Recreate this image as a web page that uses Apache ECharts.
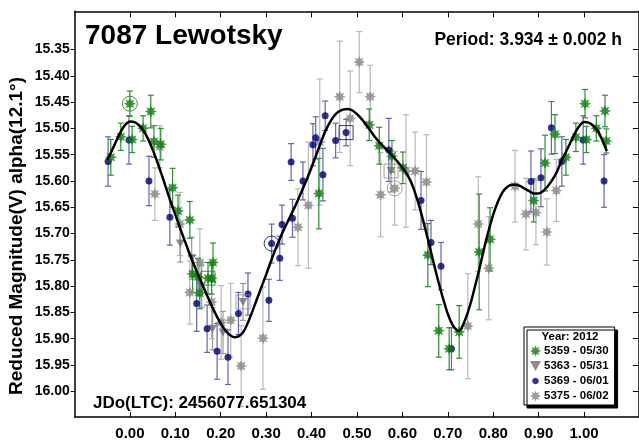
<!DOCTYPE html>
<html>
<head>
<meta charset="utf-8">
<script src="https://cdn.jsdelivr.net/npm/echarts@6/dist/echarts.min.js"></script>
<style>
html,body{margin:0;padding:0;background:#fff;}
#chart{width:639px;height:441px;}
</style>
</head>
<body>
<div id="chart"></div>
<script>
// ---- data (phase, reduced magnitude, error) ----
const s5359 = [
  [-0.042,15.555,0.034],[-0.020,15.516,0.026],[0.000,15.453,0.024],[0.005,15.521,0.025],
  [0.029,15.500,0.024],[0.046,15.468,0.031],[0.053,15.525,0.030],[0.068,15.530,0.030],
  [0.094,15.613,0.037],[0.106,15.657,0.030],[0.132,15.674,0.035],[0.138,15.777,0.035],
  [0.150,15.782,0.035],[0.154,15.813,0.030],[0.172,15.785,0.030],[0.180,15.785,0.030],
  [0.183,15.755,0.037],[0.416,15.624,0.067],[0.527,15.493,0.030],[0.549,15.533,0.035],
  [0.577,15.553,0.030],[0.601,15.575,0.030],[0.656,15.741,0.060],[0.680,15.885,0.050],
  [0.703,15.919,0.040],[0.725,15.887,0.050],[0.769,15.735,0.110],[0.793,15.711,0.060],
  [0.889,15.637,0.041],[0.914,15.566,0.053],[0.936,15.511,0.037],[0.960,15.555,0.034],
  [0.982,15.517,0.027],[1.002,15.453,0.027],[1.005,15.521,0.025],[1.027,15.500,0.024],
  [1.046,15.467,0.030],[1.049,15.524,0.023]
];
const s5363 = [
  [0.111,15.719,0.035],[0.136,15.747,0.040],[0.158,15.800,0.040],[0.182,15.881,0.040],
  [0.205,15.888,0.040],[0.249,15.830,0.035],[0.575,15.581,0.040]
];
const s5369 = [
  [-0.048,15.563,0.047],[-0.002,15.522,0.046],[0.042,15.600,0.047],[0.088,15.669,0.053],
  [0.147,15.833,0.053],[0.170,15.881,0.045],[0.192,15.924,0.053],[0.216,15.935,0.052],
  [0.239,15.852,0.040],[0.260,15.815,0.040],[0.306,15.827,0.040],[0.312,15.719,0.037],
  [0.330,15.747,0.042],[0.335,15.683,0.037],[0.355,15.564,0.035],[0.358,15.671,0.036],
  [0.381,15.600,0.036],[0.403,15.531,0.040],[0.409,15.518,0.040],[0.425,15.588,0.050],
  [0.430,15.476,0.028],[0.453,15.523,0.033],[0.476,15.508,0.025],[0.570,15.541,0.060],
  [0.641,15.637,0.055],[0.663,15.717,0.042],[0.685,15.762,0.045],[0.708,15.919,0.040],
  [0.883,15.601,0.058],[0.905,15.594,0.055],[0.928,15.499,0.050],[0.951,15.563,0.047],
  [0.998,15.522,0.046],[1.044,15.600,0.050]
];
const s5375 = [
  [0.055,15.625,0.050],[0.066,15.535,0.040],[0.110,15.682,0.060],[0.132,15.812,0.060],
  [0.154,15.755,0.064],[0.180,15.830,0.070],[0.201,15.869,0.070],[0.222,15.865,0.070],
  [0.245,15.952,0.077],[0.293,15.899,0.097],[0.370,15.688,0.073],[0.393,15.646,0.120],
  [0.418,15.526,0.120],[0.462,15.440,0.106],[0.485,15.481,0.090],[0.505,15.374,0.058],
  [0.529,15.440,0.060],[0.552,15.626,0.080],[0.583,15.614,0.070],[0.608,15.581,0.107],
  [0.628,15.581,0.074],[0.653,15.602,0.090],[0.744,15.876,0.100],[0.767,15.682,0.090],
  [0.790,15.766,0.098],[0.848,15.610,0.068],[0.872,15.663,0.068],[0.894,15.660,0.061],
  [0.918,15.697,0.063],[0.939,15.618,0.059]
];
// session-start markers
const ringsGreen = [[0.000,15.453]];
const ringsNavy = [[0.312,15.719]];
const ringsGrey = [[0.583,15.614]];
const boxesGreen = [[0.172,15.785]];
const boxesNavy = [[0.476,15.508]];
const boxesGrey = [[0.249,15.830],[0.575,15.581]];
// Fourier fit curve
const curvePhase = [-0.05,-0.04,-0.03,-0.02,-0.01,0.00,0.01,0.02,0.03,0.04,0.05,0.06,0.07,0.08,0.09,0.10,0.11,0.12,0.13,0.14,0.15,0.16,0.17,0.18,0.19,0.20,0.21,0.22,0.23,0.24,0.25,0.26,0.27,0.28,0.29,0.30,0.31,0.32,0.33,0.34,0.35,0.36,0.37,0.38,0.39,0.40,0.41,0.42,0.43,0.44,0.45,0.46,0.47,0.48,0.49,0.50,0.51,0.52,0.53,0.54,0.55,0.56,0.57,0.58,0.59,0.60,0.61,0.62,0.63,0.64,0.65,0.66,0.67,0.68,0.69,0.70,0.71,0.72,0.725,0.73,0.74,0.75,0.76,0.77,0.78,0.79,0.80,0.81,0.82,0.83,0.84,0.85,0.86,0.87,0.88,0.89,0.90,0.91,0.92,0.93,0.94,0.95,0.96,0.97,0.98,0.99,1.00,1.01,1.02,1.03,1.04,1.05];
const curveMag = [15.560,15.543,15.524,15.506,15.493,15.487,15.488,15.494,15.504,15.520,15.540,15.563,15.588,15.614,15.640,15.664,15.688,15.712,15.735,15.757,15.778,15.798,15.818,15.837,15.855,15.871,15.884,15.893,15.897,15.895,15.887,15.869,15.847,15.824,15.801,15.778,15.754,15.731,15.710,15.691,15.673,15.655,15.636,15.616,15.596,15.574,15.551,15.528,15.506,15.489,15.476,15.468,15.464,15.463,15.466,15.473,15.482,15.493,15.505,15.517,15.527,15.536,15.545,15.554,15.564,15.575,15.587,15.604,15.628,15.657,15.690,15.725,15.760,15.794,15.825,15.853,15.873,15.884,15.885,15.880,15.860,15.833,15.800,15.765,15.728,15.694,15.664,15.640,15.622,15.612,15.607,15.607,15.610,15.615,15.620,15.624,15.624,15.619,15.610,15.598,15.583,15.562,15.545,15.527,15.509,15.495,15.488,15.489,15.495,15.505,15.522,15.543];
const xTicks = [0,0.1,0.2,0.3,0.4,0.5,0.6,0.7,0.8,0.9,1.0];
const yTicks = [15.35,15.40,15.45,15.50,15.55,15.60,15.65,15.70,15.75,15.80,15.85,15.90,15.95,16.00];
const seriesNames = ['5359 - 05/30','5363 - 05/31','5369 - 06/01','5375 - 06/02'];

const FONT = '"Liberation Sans", Arial, sans-serif';
const XMIN = -0.1215, XMAX = 1.1209, YMIN = 15.2774, YMAX = 16.0488;
const STAR = 'path://M20,10 L15,12.1 L17.07,17.07 L12.1,15 L10,20 L7.9,15 L2.93,17.07 L5,12.1 L0,10 L5,7.9 L2.93,2.93 L7.9,5 L10,0 L12.1,5 L17.07,2.93 L15,7.9 Z';
const TRI = 'path://M0,0 L10,0 L5,9 Z';
const DOT = 'path://M0,0 L0.01,0 L0.01,0.01 Z M20,20 L19.99,20 L19.99,19.99 Z M10,4 L13,4.8 L15.2,7 L16,10 L15.2,13 L13,15.2 L10,16 L7,15.2 L4.8,13 L4,10 L4.8,7 L7,4.8 Z';

function errSeries(data, color) {
  return {
    type: 'custom', data: data, z: 2, silent: true,
    renderItem: function (params, api) {
      const x = api.value(0), y = api.value(1), e = api.value(2);
      const a = api.coord([x, y - e]);
      const b = api.coord([x, y + e]);
      const c = 3;
      const st = {stroke: color, lineWidth: 1.2};
      return {type: 'group', children: [
        {type: 'line', shape: {x1: a[0], y1: a[1], x2: b[0], y2: b[1]}, style: st},
        {type: 'line', shape: {x1: a[0]-c, y1: a[1], x2: a[0]+c, y2: a[1]}, style: st},
        {type: 'line', shape: {x1: b[0]-c, y1: b[1], x2: b[0]+c, y2: b[1]}, style: st}
      ]};
    }
  };
}
function markSeries(data, symbol, color, size) {
  return {type: 'scatter', data: data, symbol: symbol, symbolSize: size, z: 4, silent: true,
    itemStyle: {color: 'rgba(0,0,0,0)', borderColor: color, borderWidth: 1}};
}

const chart = echarts.init(document.getElementById('chart'), null, {renderer: 'canvas'});
const axisLine = {show: true, onZero: false, lineStyle: {color: '#000', width: 1.5}};
chart.setOption({
  animation: false,
  backgroundColor: '#fff',
  grid: {left: 74.7, top: 11.3, width: 565.3, height: 411, containLabel: false},
  xAxis: [
    {type: 'value', position: 'bottom', min: XMIN, max: XMAX, axisLine: axisLine,
     splitLine: {show: false},
     axisTick: {show: true, inside: true, length: 5, customValues: xTicks, lineStyle: {color: '#000', width: 1}},
     axisLabel: {show: true, customValues: xTicks, margin: 9, formatter: v => v.toFixed(2),
                 fontFamily: FONT, fontWeight: 'bold', fontSize: 15, color: '#000'}},
    {type: 'value', position: 'top', min: XMIN, max: XMAX, axisLine: axisLine,
     splitLine: {show: false},
     axisTick: {show: true, inside: true, length: 6, customValues: xTicks, lineStyle: {color: '#000', width: 1}},
     axisLabel: {show: false}}
  ],
  yAxis: [
    {type: 'value', position: 'left', inverse: true, min: YMIN, max: YMAX, axisLine: axisLine,
     splitLine: {show: false},
     axisTick: {show: true, inside: false, length: 4, customValues: yTicks, lineStyle: {color: '#000', width: 1}},
     axisLabel: {show: true, customValues: yTicks, margin: 5, formatter: v => v.toFixed(2),
                 fontFamily: FONT, fontWeight: 'bold', fontSize: 14, color: '#000'}},
    {type: 'value', position: 'right', inverse: true, min: YMIN, max: YMAX, axisLine: axisLine,
     splitLine: {show: false},
     axisTick: {show: true, inside: true, length: 6, customValues: yTicks, lineStyle: {color: '#000', width: 1}},
     axisLabel: {show: false}}
  ],
  legend: {
    orient: 'vertical', left: 524, top: 327, width: 91,
    data: [
      {name: seriesNames[0], icon: STAR},
      {name: seriesNames[1], icon: TRI},
      {name: seriesNames[2], icon: DOT},
      {name: seriesNames[3], icon: STAR}
    ],
    backgroundColor: '#fff', borderColor: '#000', borderWidth: 1,
    shadowColor: '#000', shadowOffsetX: 3, shadowOffsetY: 3, shadowBlur: 0,
    padding: [18, 6, 3, 6], itemGap: 3, itemWidth: 11, itemHeight: 11,
    selectedMode: false,
    textStyle: {fontFamily: FONT, fontWeight: 'bold', fontSize: 11.5, color: '#000', padding: [0,0,0,-2]}
  },
  graphic: [
    {type: 'text', left: 85, top: 22, z: 100, style: {text: '7087 Lewotsky', font: 'bold 28px ' + FONT, fill: '#000'}},
    {type: 'text', x: 622, y: 40, z: 100, style: {text: 'Period: 3.934 \u00b1 0.002 h', font: 'bold 17.5px ' + FONT, fill: '#000', align: 'right', verticalAlign: 'middle'}},
    {type: 'text', x: 93, y: 403, z: 100, style: {text: 'JDo(LTC): 2456077.651304', font: 'bold 17px ' + FONT, fill: '#000', align: 'left', verticalAlign: 'middle'}},
    {type: 'text', x: 17, y: 236, rotation: Math.PI / 2, z: 100, style: {text: 'Reduced Magnitude(V) alpha(12.1\u00b0)', font: 'bold 19px ' + FONT, fill: '#000', align: 'center', verticalAlign: 'middle'}},
    {type: 'text', x: 570, y: 337, z: 100, style: {text: 'Year: 2012', font: 'bold 11.5px ' + FONT, fill: '#000', align: 'center', verticalAlign: 'middle'}}
  ],
  series: [
    errSeries(s5375, '#b8b8b8'),
    errSeries(s5363, '#999999'),
    errSeries(s5369, '#6464b4'),
    errSeries(s5359, '#2a922a'),
    {name: seriesNames[3], type: 'scatter', data: s5375, symbol: STAR, symbolSize: 12, z: 3,
     itemStyle: {color: '#848484'}},
    {name: seriesNames[1], type: 'scatter', data: s5363, symbol: TRI, symbolSize: [9, 8], z: 3,
     itemStyle: {color: '#6e6e6e'}},
    {name: seriesNames[2], type: 'scatter', data: s5369, symbol: 'circle', symbolSize: 7, z: 3,
     itemStyle: {color: '#00007a'}},
    {name: seriesNames[0], type: 'scatter', data: s5359, symbol: STAR, symbolSize: 12, z: 3,
     itemStyle: {color: '#0a800a'}},
    markSeries(ringsGreen, 'circle', '#0a800a', 15),
    markSeries(ringsNavy, 'circle', '#00007a', 15),
    markSeries(ringsGrey, 'circle', '#8c8c8c', 15),
    markSeries(boxesGreen, 'rect', '#0a800a', 14),
    markSeries(boxesNavy, 'rect', '#00007a', 14),
    markSeries(boxesGrey, 'rect', '#8c8c8c', 14),
    {type: 'line', data: curvePhase.map((p, i) => [p, curveMag[i]]), smooth: 0.3,
     showSymbol: false, silent: true, z: 5, lineStyle: {color: '#000', width: 2.5}}
  ]
});
</script>
</body>
</html>
